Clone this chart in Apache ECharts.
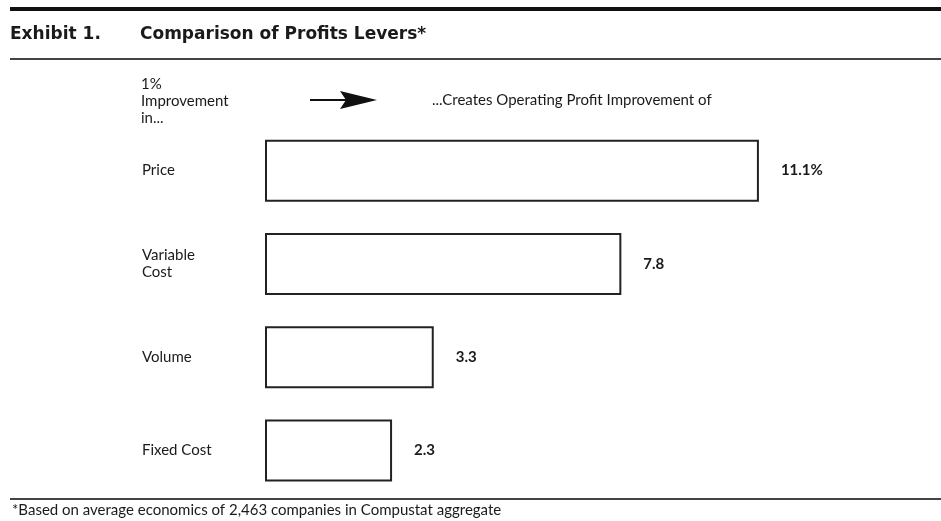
<!DOCTYPE html>
<html>
<head>
<meta charset="utf-8">
<title>Comparison of Profits Levers</title>
<script src="https://cdn.jsdelivr.net/npm/echarts@6/dist/echarts.min.js"></script>
<style>
  html, body { margin: 0; padding: 0; background: #fff; }
  #chart { width: 941px; height: 521px; }
</style>
</head>
<body>
<div id="chart"></div>
<script>
// Profit levers and the operating-profit improvement a 1% change in each produces
const levers = ['Price', 'Variable\nCost', 'Volume', 'Fixed Cost'];
const profitImprovement = [11.1, 7.8, 3.3, 2.3];
const labelSuffix = ['%', '', '', ''];

const exhibitNo = 'Exhibit 1.';
const exhibitTitle = 'Comparison of Profits Levers*';
const leftHeader = '1%\nImprovement\nin...';
const rightHeader = '...Creates Operating Profit Improvement of';
const footnote = '*Based on average economics of 2,463 companies in Compustat aggregate';

// value axis range; boxes are drawn from the axis start to each value
const AXIS_MIN = -0.7;
const AXIS_MAX = 15.3;

const FONT = 'Lato, "Noto Sans", sans-serif';
const TITLE_FONT = '"DejaVu Sans", sans-serif';
const INK = '#1a1a1a';

const chart = echarts.init(document.getElementById('chart'), null, { renderer: 'canvas' });

function renderBox(params, api) {
  const i = api.value(0);
  const v = api.value(1);
  const start = api.coord([AXIS_MIN, i]);
  const end = api.coord([v, i]);
  const h = 60;
  return {
    type: 'rect',
    shape: { x: start[0], y: start[1] - h / 2, width: end[0] - start[0], height: h },
    style: { fill: '#fff', stroke: '#222', lineWidth: 2 },
    textContent: {
      style: {
        text: profitImprovement[i] + labelSuffix[i],
        fill: INK,
        font: 'bold 15px ' + FONT
      }
    },
    textConfig: { position: 'right', distance: 22 }
  };
}

chart.setOption({
  animation: false,
  backgroundColor: '#fff',
  grid: { left: 266, right: 8, top: 124, bottom: 24, containLabel: false },
  xAxis: {
    type: 'value', min: AXIS_MIN, max: AXIS_MAX,
    show: false
  },
  yAxis: {
    type: 'category',
    data: levers,
    inverse: true,
    axisLine: { show: false },
    axisTick: { show: false },
    splitLine: { show: false },
    axisLabel: {
      align: 'left',
      margin: 124,
      color: INK,
      fontFamily: FONT,
      fontSize: 15,
      lineHeight: 17
    }
  },
  series: [{
    type: 'custom',
    renderItem: renderBox,
    encode: { x: 1, y: 0 },
    data: profitImprovement.map((v, i) => [i, v])
  }],
  graphic: [
    // heavy rule above the heading
    { type: 'rect', shape: { x: 10, y: 7, width: 931, height: 4 }, style: { fill: '#111' } },
    { type: 'text', left: 10, top: 26, style: { text: exhibitNo, font: 'bold 17px ' + TITLE_FONT, fill: INK } },
    { type: 'text', left: 140, top: 26, style: { text: exhibitTitle, font: 'bold 17px ' + TITLE_FONT, fill: INK } },
    // thin rule below the heading
    { type: 'rect', shape: { x: 10, y: 58, width: 931, height: 2 }, style: { fill: '#444' } },
    { type: 'text', left: 141, top: 76, style: { text: leftHeader, font: '15px ' + FONT, fill: INK, lineHeight: 17 } },
    // arrow linking the two headers
    { type: 'line', shape: { x1: 310, y1: 100, x2: 352, y2: 100 }, style: { stroke: '#111', lineWidth: 2 } },
    { type: 'polygon', shape: { points: [[340, 91], [377, 100], [340, 109], [346, 100]] }, style: { fill: '#111' } },
    { type: 'text', left: 432, top: 93, style: { text: rightHeader, font: '15px ' + FONT, fill: INK } },
    // footnote rule and text
    { type: 'rect', shape: { x: 10, y: 498, width: 931, height: 2 }, style: { fill: '#444' } },
    { type: 'text', left: 12, top: 503, style: { text: footnote, font: '15px ' + FONT, fill: INK } }
  ]
});
</script>
</body>
</html>
